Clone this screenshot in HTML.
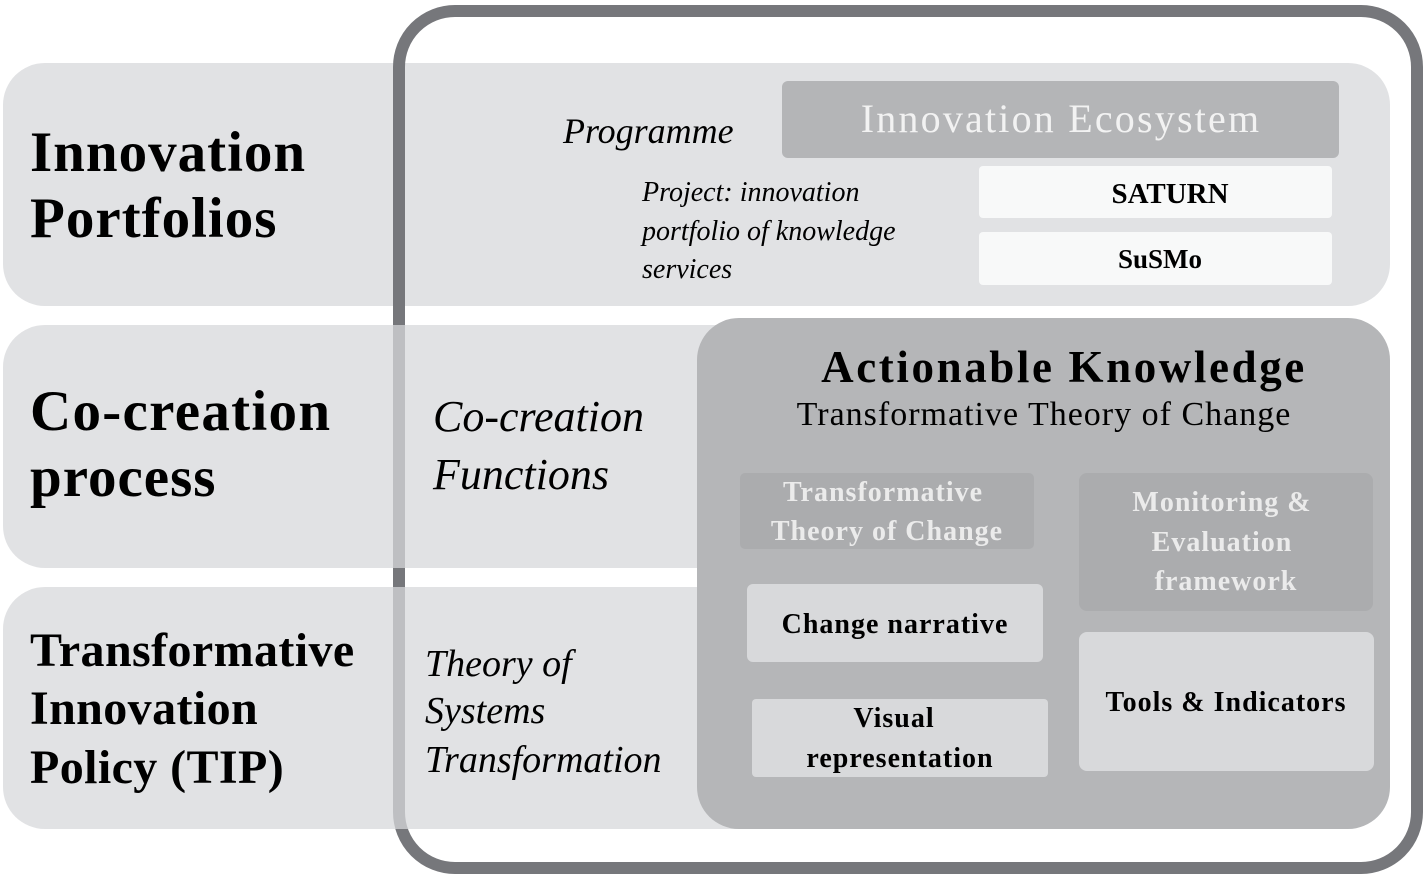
<!DOCTYPE html>
<html><head><meta charset="utf-8"><style>
html,body{margin:0;padding:0;background:#fff;width:1427px;height:881px;overflow:hidden;position:relative;font-family:"Liberation Serif",serif;}
div{position:absolute;box-sizing:border-box;}
.t{white-space:nowrap;line-height:1;}
.b{font-weight:bold;}
.i{font-style:italic;}
.c{transform:translateX(-50%);}
</style></head><body>
<div style="left:3px;top:63px;width:1387px;height:243px;background:#e1e2e4;border-radius:42px;"></div>
<div style="left:393px;top:5px;width:1030px;height:869px;border:12px solid #76777b;border-radius:62px;"></div>
<div style="left:3px;top:325px;width:760px;height:243px;background:rgba(215,216,219,0.745);border-radius:42px 0 0 42px;"></div>
<div style="left:3px;top:587px;width:760px;height:242px;background:rgba(215,216,219,0.745);border-radius:42px 0 0 42px;"></div>
<div style="left:697px;top:318px;width:693px;height:511px;background:#b5b6b8;border-radius:42px;"></div>

<div style="left:782px;top:81px;width:557px;height:77px;background:#b4b5b7;border-radius:6px;"></div>
<div style="left:979px;top:166px;width:353px;height:52px;background:#f8f9f9;border-radius:4px;"></div>
<div style="left:979px;top:232px;width:353px;height:53px;background:#f8f9f9;border-radius:4px;"></div>

<div style="left:740px;top:473px;width:294px;height:76px;background:#abacae;border-radius:5px;"></div>
<div style="left:1079px;top:473px;width:294px;height:138px;background:#abacae;border-radius:8px;"></div>
<div style="left:747px;top:584px;width:296px;height:78px;background:#d8d9db;border-radius:6px;"></div>
<div style="left:752px;top:699px;width:296px;height:78px;background:#d8d9db;border-radius:4px;"></div>
<div style="left:1079px;top:632px;width:295px;height:139px;background:#d8d9db;border-radius:8px;"></div>

<div class="t b" style="left:30px;top:124px;font-size:57px;letter-spacing:1px;">Innovation</div>
<div class="t b" style="left:30px;top:190px;font-size:57px;letter-spacing:1px;">Portfolios</div>
<div class="t b" style="left:30px;top:383px;font-size:57px;letter-spacing:1.3px;">Co-creation</div>
<div class="t b" style="left:30px;top:449px;font-size:57px;letter-spacing:1px;">process</div>
<div class="t b" style="left:30px;top:627px;font-size:48px;letter-spacing:0.4px;">Transformative</div>
<div class="t b" style="left:30px;top:685px;font-size:48px;letter-spacing:0.4px;">Innovation</div>
<div class="t b" style="left:30px;top:744px;font-size:48px;letter-spacing:0.4px;">Policy (TIP)</div>

<div class="t i" style="left:563px;top:113px;font-size:36px;">Programme</div>
<div class="t i" style="left:642px;top:179px;font-size:28px;">Project: innovation</div>
<div class="t i" style="left:642px;top:218px;font-size:28px;">portfolio of knowledge</div>
<div class="t i" style="left:642px;top:256px;font-size:28px;">services</div>
<div class="t i" style="left:433px;top:395px;font-size:44px;">Co-creation</div>
<div class="t i" style="left:433px;top:453px;font-size:44px;">Functions</div>
<div class="t i" style="left:425px;top:645px;font-size:38px;">Theory of</div>
<div class="t i" style="left:425px;top:692px;font-size:38px;">Systems</div>
<div class="t i" style="left:425px;top:741px;font-size:38px;">Transformation</div>

<div class="t c" style="left:1061px;top:99px;font-size:40px;color:#f2f2f2;letter-spacing:2.2px;">Innovation Ecosystem</div>
<div class="t b c" style="left:1170px;top:180px;font-size:29px;">SATURN</div>
<div class="t b c" style="left:1160px;top:246px;font-size:27px;">SuSMo</div>

<div class="t b c" style="left:1064px;top:345px;font-size:45px;letter-spacing:2.6px;">Actionable Knowledge</div>
<div class="t c" style="left:1044px;top:398px;font-size:34px;letter-spacing:1px;">Transformative Theory of Change</div>

<div class="t b c" style="left:883px;top:479px;font-size:28px;color:#ebebeb;letter-spacing:1px;">Transformative</div>
<div class="t b c" style="left:887px;top:518px;font-size:28px;color:#ebebeb;letter-spacing:1px;">Theory of Change</div>
<div class="t b c" style="left:1222px;top:489px;font-size:28px;color:#ebebeb;letter-spacing:1px;">Monitoring &amp;</div>
<div class="t b c" style="left:1222px;top:529px;font-size:28px;color:#ebebeb;letter-spacing:1px;">Evaluation</div>
<div class="t b c" style="left:1226px;top:568px;font-size:28px;color:#ebebeb;letter-spacing:1px;">framework</div>
<div class="t b c" style="left:895px;top:611px;font-size:28px;letter-spacing:1px;">Change narrative</div>
<div class="t b c" style="left:894px;top:705px;font-size:28px;letter-spacing:1px;">Visual</div>
<div class="t b c" style="left:900px;top:745px;font-size:28px;letter-spacing:1px;">representation</div>
<div class="t b c" style="left:1226px;top:689px;font-size:28px;letter-spacing:1px;">Tools &amp; Indicators</div>
</body></html>
